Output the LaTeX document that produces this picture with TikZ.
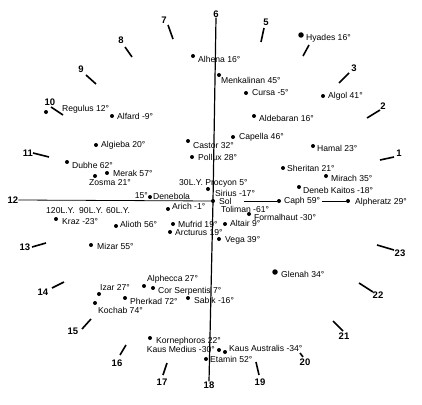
\documentclass[tikz,border=0pt]{standalone}
\usepackage{fontspec}
\setmainfont{Liberation Sans}

\begin{document}
\begin{tikzpicture}[x=1pt, y=-1pt,
  star/.style={circle, fill=black, inner sep=0pt, minimum size=4pt},
  bigstar/.style={star, minimum size=5.5pt},
  lbl/.style={anchor=west, inner sep=0pt, font=\fontsize{8.6}{9}\selectfont},
  num/.style={inner sep=0pt, font=\fontsize{9.5}{10}\selectfont\bfseries},
  hourtick/.style={line width=1.6pt},
  axis/.style={line width=0.8pt}]

  % 1. Cadre de l'image
  \useasboundingbox (0,0) rectangle (422,404);

  % 2. Les heures autour du Soleil
  \node[num] (h6) at (216,14) {6};
  \node[num] (h12) at (13,200) {12};
  \node[num] (h18) at (209,385) {18};
  \foreach \h/\ax/\ay/\bx/\by/\lx/\ly in {
      5/264/28/261/42/266/22, 3/349/73/339/83/354/68, 2/380/110/367/118/383/106,
      1/394/157/380/160/399/153, 23/377/245/394/250/400/253, 22/359/283/373/292/378/295,
      21/333/321/343/331/344/336, 20/300/353/303/357/305/362, 19/256/362/259/375/260/382,
      17/167/363/163/375/162/382, 16/126/345/120/355/117/363, 15/91/319/82/329/73/331,
      14/52/288/64/282/43/292, 13/32/247/46/243/25/247, 11/33/153/49/157/28/153,
      10/51/107/63/115/50/102, 9/86/75/96/84/81/69, 8/125/47/132/57/121/40,
      7/168/25/173/39/164/20} {
    \coordinate (t\h a) at (\ax,\ay);
    \coordinate (t\h b) at (\bx,\by);
    \draw[hourtick] (t\h a) -- (t\h b);
    \node[num] (h\h) at (\lx,\ly) {\h};
  }
  % trait sans numéro (heure 4)
  \coordinate (t4a) at (309,45);
  \coordinate (t4b) at (303,56);
  \draw[hourtick] (t4a) -- (t4b);

  % 3. Le Soleil et les axes
  \node[star] (sol) at (213,201) {};
  \node[lbl] (solL) at (219,201) {Sol};
  \node[star] (caph) at (279,201) {};
  \node[lbl] (caphL) at (284,201) {Caph 59°};
  \node[star] (alpheratz) at (348,201) {};
  \node[lbl] (alpheratzL) at (355,202) {Alpheratz 29°};
  \draw[axis, line width=1.2pt] (h6.south) -- (sol.center) -- (h18.north);
  \draw[axis] (h12.east) -- (sol.center);
  \path (solL.east) ++(12pt,0) coordinate (solR);
  \draw[axis] (solR) -- (caph);
  \path (caphL.east) ++(2pt,0) coordinate (caphR);
  \draw[axis] (caphR) -- (alpheratz);

  % Distances sur l'axe
  \node[lbl] (d120) at (46,211) {120L.Y.};
  \node[lbl] (d90) at (79,211) {90L.Y.};
  \node[lbl] (d60) at (106,211) {60L.Y.};

  % 4. Les étoiles
  \foreach \s/\x/\y/\tx/\ty/\t in {
      alhena/193/56/198/59/{Alhena 16°}, menkalinan/219/75/221/80/{Menkalinan 45°},
      cursa/246/93/252/93/{Cursa -5°}, algol/323/96/328/96/{Algol 41°},
      aldebaran/254/116/259/118/{Aldebaran 16°}, capella/233/137/239/137/{Capella 46°},
      hamal/313/146/317/148/{Hamal 23°}, sheritan/283/168/287/168/{Sheritan 21°},
      mirach/326/176/331/178/{Mirach 35°}, denebk/299/187/303/190/{Deneb Kaitos -18°},
      sirius/208/189/215/193/{Sirius -17°}, formalhaut/249/214/254/217/{Formalhaut -30°},
      altair/225/224/230/223/{Altair 9°}, vega/219/239/225/240/{Vega 39°},
      castor/188/141/193/146/{Castor 32°}, pollux/192/157/198/157/{Pollux 28°},
      denebola/150/197/153/196/{Denebola}, arich/168/209/172/206/{Arich -1°},
      regulus/46/112/62/109/{Regulus 12°}, alfard/112/116/117/116/{Alfard -9°},
      algieba/96/145/101/145/{Algieba 20°}, dubhe/67/162/72/165/{Dubhe 62°},
      merak/107/173/113/173/{Merak 57°}, zosma/95/176/89/183/{Zosma 21°},
      kraz/56/219/62/222/{Kraz -23°}, alioth/116/226/120/224/{Alioth 56°},
      mufrid/173/224/178/224/{Mufrid 19°}, arcturus/170/232/175/233/{Arcturus 19°},
      mizar/91/245/97/246/{Mizar 55°}, alphecca/144/286/147/279/{Alphecca 27°},
      corserp/153/288/158/291/{Cor Serpentis 7°}, izar/99/294/100/288/{Izar 27°},
      pherkad/125/298/130/301/{Pherkad 72°}, sabik/188/298/194/300/{Sabik -16°},
      kochab/95/303/98/310/{Kochab 74°}, kornephoros/150/338/156/341/{Kornephoros 22°},
      kausa/225/352/229/348/{Kaus Australis -34°}, etamin/206/359/210/359/{Etamin 52°}} {
    \node[star] (\s) at (\x,\y) {};
    \node[lbl] (\s L) at (\tx,\ty) {\t};
  }
  \node[bigstar] (hyades) at (301,35) {};
  \node[lbl] (hyadesL) at (306,38) {Hyades 16°};
  \node[bigstar] (glenah) at (275,272) {};
  \node[lbl] (glenahL) at (281,274) {Glenah 34°};
  \node[star] (kausm) at (219,350) {};
  \node[lbl, anchor=east] (kausmL) at (215,349) {Kaus Medius -30°};

  % Textes sans point
  \node[lbl] (procyonL) at (179,183) {30L.Y. Procyon 5°};
  \node[lbl] (tolimanL) at (221,209) {Toliman -61°};
  \node[lbl, anchor=east] (denebolaD) at (148,196) {15°};

\end{tikzpicture}
\end{document}
